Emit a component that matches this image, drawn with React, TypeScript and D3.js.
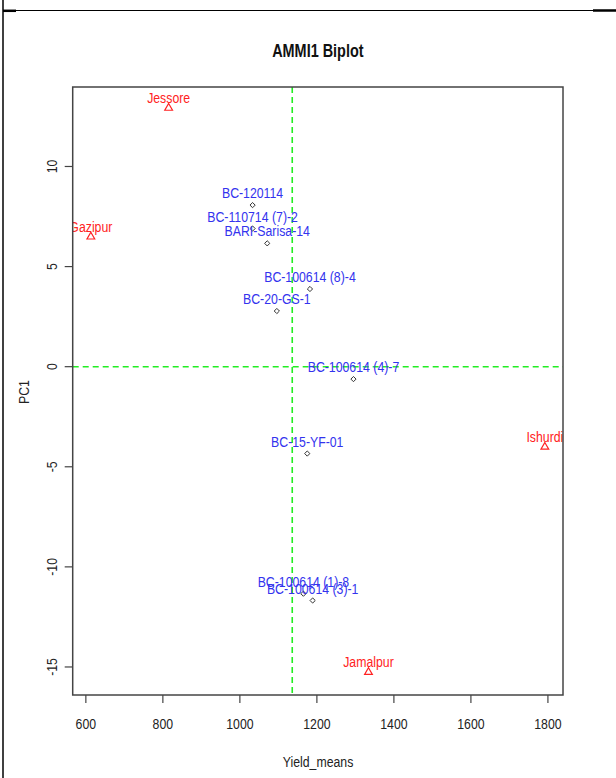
import React from "react";
import * as d3 from "d3";

const envNames = ["Jessore", "Gazipur", "Ishurdi", "Jamalpur"];
const envYield = [815, 613, 1792, 1334];
const envPC1 = [12.92, 6.49, -4.01, -15.26];

const genNames = [
  "BC-120114",
  "BC-110714 (7)-2",
  "BARI-Sarisa-14",
  "BC-100614 (8)-4",
  "BC-20-GS-1",
  "BC-100614 (4)-7",
  "BC-15-YF-01",
  "BC-100614 (1)-8",
  "BC-100614 (3)-1",
];
const genYield = [1033, 1033, 1071, 1182, 1096, 1295, 1175, 1165, 1189];
const genPC1 = [8.07, 6.9, 6.16, 3.88, 2.78, -0.62, -4.34, -11.34, -11.68];

const meanYield = 1136;
const xTicks = [600, 800, 1000, 1200, 1400, 1600, 1800];
const yTicks = [10, 5, 0, -5, -10, -15];

const W = 616;
const H = 778;
const L = 72.7, R = 563, T = 87, B = 695;
const SX = 0.82;
const FONT = "'Liberation Sans', Arial, sans-serif";

function Txt({ x, y, size, color, children, bold, rotate, sx = SX }: any) {
  const tr = rotate
    ? `translate(${x},${y}) rotate(${rotate}) scale(${sx},1)`
    : `translate(${x},${y}) scale(${sx},1)`;
  return (
    <text
      transform={tr}
      textAnchor="middle"
      fontFamily={FONT}
      fontSize={size}
      fontWeight={bold ? "bold" : "normal"}
      fill={color}
    >
      {children}
    </text>
  );
}

export default function App() {
  const allX = [...envYield, ...genYield];
  const allY = [...envPC1, ...genPC1];
  const [x0, x1] = d3.extent(allX) as [number, number];
  const px = (x1 - x0) * 0.04;
  const x = d3.scaleLinear().domain([x0 - px, x1 + px]).range([L, R]);
  const y = d3.scaleLinear().domain([-16.4, 13.97]).range([B, T]);

  const tri = d3.symbol().type(d3.symbolTriangle).size(26)();
  const diamond = "M0,-2.6L2.6,0L0,2.6L-2.6,0Z";

  return (
    <svg
      width={W}
      height={H}
      style={{ position: "absolute", left: 0, top: 0, background: "#fff" }}
    >
      <defs>
        <clipPath id="plotClip">
          <rect x={L} y={T} width={R - L} height={B - T} />
        </clipPath>
      </defs>
      {/* page frame */}
      <line x1={3} y1={0} x2={3} y2={H} stroke="#000" strokeWidth={1.5} />
      <line x1={3} y1={10.5} x2={W} y2={10.5} stroke="#000" strokeWidth={1} />
      <line x1={3} y1={10.8} x2={16} y2={10.8} stroke="#000" strokeWidth={2.5} />
      <line x1={593} y1={10.5} x2={W} y2={10.5} stroke="#000" strokeWidth={2.5} />

      {/* title */}
      <Txt x={(L + R) / 2} y={57} size={18.5} color="#111" bold sx={0.78}>
        AMMI1 Biplot
      </Txt>

      {/* reference lines */}
      <g clipPath="url(#plotClip)">
        <line
          x1={L}
          x2={R}
          y1={y(0)}
          y2={y(0)}
          stroke="#22ee22"
          strokeWidth={1.6}
          strokeDasharray="6,4"
        />
        <line
          x1={x(meanYield)}
          x2={x(meanYield)}
          y1={T}
          y2={B}
          stroke="#22ee22"
          strokeWidth={1.6}
          strokeDasharray="6,4"
        />
        {genNames.map((n, i) => (
          <path
            key={"g" + i}
            d={diamond}
            transform={`translate(${x(genYield[i])},${y(genPC1[i])})`}
            fill="#fff"
            stroke="#333"
            strokeWidth={1}
          />
        ))}
        {genNames.map((n, i) => (
          <Txt
            key={"gl" + i}
            x={x(genYield[i])}
            y={y(genPC1[i]) - 7}
            size={15}
            color="#3333ee"
          >
            {n}
          </Txt>
        ))}
        {envNames.map((n, i) => (
          <path
            key={"e" + i}
            d={tri}
            transform={`translate(${x(envYield[i])},${y(envPC1[i])})`}
            fill="none"
            stroke="#ff2222"
            strokeWidth={1.2}
          />
        ))}
        {envNames.map((n, i) => (
          <Txt
            key={"el" + i}
            x={x(envYield[i])}
            y={y(envPC1[i]) - 5}
            size={15}
            color="#ff2222"
          >
            {n}
          </Txt>
        ))}
      </g>

      {/* plot box */}
      <rect x={L} y={T} width={R - L} height={B - T} fill="none" stroke="#444" strokeWidth={1.5} />

      {/* x axis */}
      {xTicks.map((t) => (
        <g key={"xt" + t}>
          <line x1={x(t)} x2={x(t)} y1={B} y2={B + 8} stroke="#444" strokeWidth={1.2} />
          <Txt x={x(t)} y={728.5} size={15} color="#222">
            {t}
          </Txt>
        </g>
      ))}
      {/* y axis */}
      {yTicks.map((t) => (
        <g key={"yt" + t}>
          <line x1={L - 8} x2={L} y1={y(t)} y2={y(t)} stroke="#444" strokeWidth={1.2} />
          <Txt x={57} y={y(t)} size={15} color="#222" rotate={-90}>
            {t}
          </Txt>
        </g>
      ))}

      <Txt x={318} y={767} size={15} color="#222">
        Yield_means
      </Txt>
      <Txt x={29} y={392} size={15} color="#222" rotate={-90}>
        PC1
      </Txt>
    </svg>
  );
}
